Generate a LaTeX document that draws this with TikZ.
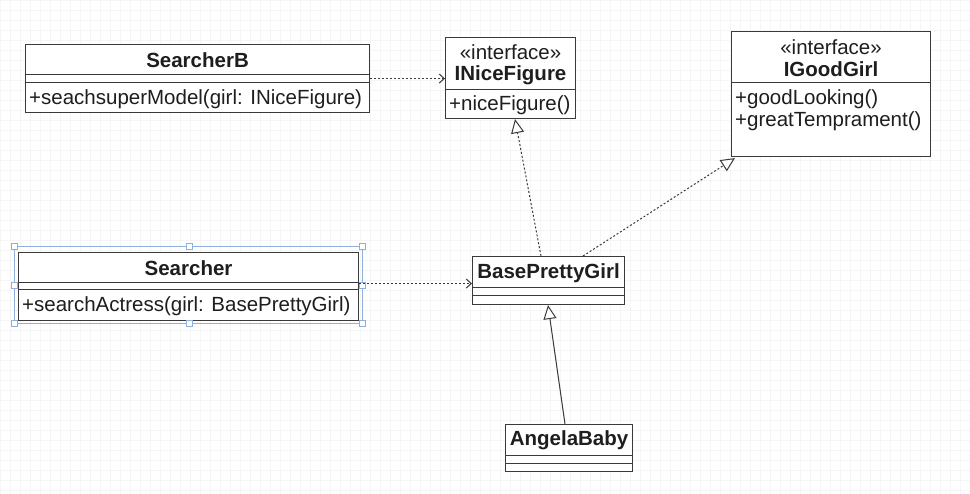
\documentclass[tikz,border=0pt]{standalone}
\usepackage{fontspec}
\setmainfont{Liberation Sans}
\usetikzlibrary{arrows.meta,calc}
\definecolor{linec}{HTML}{3A3A3A}
\definecolor{textc}{HTML}{1E1E1E}
\definecolor{gridc}{HTML}{F5F5F5}
\definecolor{selc}{HTML}{8FB0DC}
\begin{document}
\begin{tikzpicture}[x=1pt,y=-1pt,
  box/.style={draw=linec, line width=1.1pt, fill=white, inner sep=0pt, anchor=north west},
  sep/.style={draw=linec, line width=1pt},
  cname/.style={text=textc, font=\fontsize{20.5}{22}\selectfont\bfseries, inner sep=0pt},
  ster/.style={text=textc, font=\fontsize{20.5}{22}\selectfont, inner sep=0pt},
  meth/.style={text=textc, font=\fontsize{20.5}{22}\selectfont, inner sep=0pt, anchor=west},
  dep/.style={draw=linec, line width=1pt, dash pattern=on 2pt off 2pt, -{Straight Barb[length=5pt,width=9pt]}},
  real/.style={draw=linec, line width=1pt, dash pattern=on 2pt off 2pt, -{Triangle[open,length=14pt,width=13pt,fill=white]}},
  gen/.style={draw=linec, line width=1pt, -{Triangle[open,length=14pt,width=13pt,fill=white]}},
  handle/.style={draw=selc, fill=white, line width=0.8pt, minimum size=6pt, inner sep=0pt}
]
\useasboundingbox (0,0) rectangle (970,494);
\fill[white] (0,0) rectangle (970,494);
\draw[gridc, line width=0.6pt, step=10pt] (0,0) grid (970,494);

% SearcherB
\node[box, minimum width=344pt, minimum height=68pt] (sb) at (25,44) {};
\draw[sep] ($(sb.north west)+(0,31)$) -- ($(sb.north east)+(0,31)$);
\draw[sep] ($(sb.north west)+(0,39)$) -- ($(sb.north east)+(0,39)$);
\node[cname] (sbn) at ($(sb.north)+(0,16)$) {SearcherB};
\node[meth] (sbm) at ($(sb.north west)+(4,55)$) {+seachsuperModel(girl: INiceFigure)};

% INiceFigure
\node[box, minimum width=130pt, minimum height=81pt] (inf) at (445,37) {};
\draw[sep] ($(inf.north west)+(0,53)$) -- ($(inf.north east)+(0,53)$);
\node[ster] (infs) at ($(inf.north)+(0,15)$) {«interface»};
\node[cname] (infn) at ($(inf.north)+(0,38)$) {INiceFigure};
\node[meth] (infm) at ($(inf.north west)+(4,68)$) {+niceFigure()};

% IGoodGirl
\node[box, minimum width=199pt, minimum height=125pt] (igg) at (731,31) {};
\draw[sep] ($(igg.north west)+(0,52)$) -- ($(igg.north east)+(0,52)$);
\node[ster] (iggs) at ($(igg.north)+(0,16)$) {«interface»};
\node[cname] (iggn) at ($(igg.north)+(0,38)$) {IGoodGirl};
\node[meth] (iggm1) at ($(igg.north west)+(4,68)$) {+goodLooking()};
\node[meth] (iggm2) at ($(igg.north west)+(4,90)$) {+greatTemprament()};

% Searcher (selected)
\draw[selc, line width=0.8pt] (14,246) rectangle (362,323);
\node[box, minimum width=340pt, minimum height=68pt] (s) at (18,252) {};
\draw[sep] ($(s.north west)+(0,31)$) -- ($(s.north east)+(0,31)$);
\draw[sep] ($(s.north west)+(0,38)$) -- ($(s.north east)+(0,38)$);
\node[cname] (sn) at ($(s.north)+(0,16)$) {Searcher};
\node[meth] (sm) at ($(s.north west)+(4,54)$) {+searchActress(girl: BasePrettyGirl)};
\foreach \hx/\hy [count=\i] in {14/246,189/246,362/246,14/285,362/285,14/323,189/323,362/323}
  \node[handle] (h\i) at (\hx,\hy) {};

% BasePrettyGirl
\node[box, minimum width=152pt, minimum height=48pt] (bpg) at (472,256) {};
\draw[sep] ($(bpg.north west)+(0,32)$) -- ($(bpg.north east)+(0,32)$);
\draw[sep] ($(bpg.north west)+(0,40)$) -- ($(bpg.north east)+(0,40)$);
\node[cname] (bpgn) at ($(bpg.north)+(0,17)$) {BasePrettyGirl};

% AngelaBaby
\node[box, minimum width=127pt, minimum height=47pt] (ab) at (505,424) {};
\draw[sep] ($(ab.north west)+(0,31)$) -- ($(ab.north east)+(0,31)$);
\draw[sep] ($(ab.north west)+(0,39)$) -- ($(ab.north east)+(0,39)$);
\node[cname] (abn) at ($(ab.north)+(0,16)$) {AngelaBaby};

% connectors
\draw[dep] (sb.east) -- (sb.east -| inf.west);
\draw[dep] ($(s.east)+(0,-3)$) -- ($(s.east -| bpg.west)+(0,-3)$);
\draw[real] ($(bpg.north west)+(69,0)$) -- ($(inf.south west)+(70,0)$);
\draw[real] ($(bpg.north west)+(111,0)$) -- ($(igg.south west)+(4,1)$);
\draw[gen] ($(ab.north west)+(60,0)$) -- ($(bpg.south west)+(76,0)$);
\end{tikzpicture}
\end{document}
